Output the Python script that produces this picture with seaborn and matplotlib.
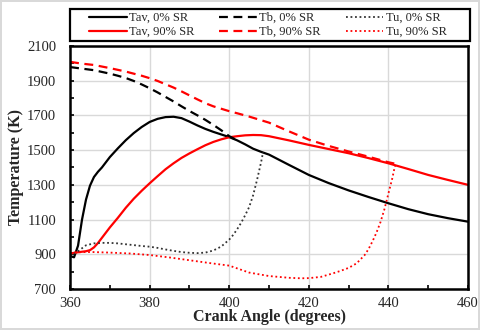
import seaborn as sns
import matplotlib
matplotlib.use('Agg')
import matplotlib.pyplot as plt
from matplotlib.ticker import MultipleLocator
from matplotlib.patches import Rectangle

# valores (angulo de cigueñal en grados, temperatura en K)
tav0_x = [360, 361, 362, 363, 364, 365, 366, 367, 368, 370, 372, 374, 376, 378, 380, 382, 384, 386, 388, 390,
          392, 394, 396, 398, 400, 402, 404, 406, 408, 410, 415, 420, 425, 430, 435, 440, 445, 450, 455, 460]
tav0_y = [890, 883, 950, 1100, 1215, 1295, 1345, 1375, 1400, 1460, 1510, 1557, 1598, 1633, 1662, 1680, 1690, 1692, 1684, 1664,
          1642, 1622, 1605, 1590, 1575, 1556, 1533, 1508, 1490, 1474, 1415, 1357, 1310, 1268, 1230, 1194, 1160, 1131, 1108, 1088]

tb0_x = [360, 362, 364, 366, 368, 370, 372, 374, 376, 378, 380, 382, 384, 386, 388, 390, 392, 394, 396, 398, 400, 402]
tb0_y = [1978, 1972, 1966, 1960, 1950, 1940, 1928, 1915, 1898, 1878, 1856, 1832, 1806, 1780, 1752, 1725, 1700, 1674, 1645, 1614, 1580, 1556]

tu0_x = [360, 362, 364, 366, 368, 370, 372, 374, 376, 378, 380, 382, 384, 386, 388, 390, 392, 394, 396, 398,
         400, 401, 402, 403, 404, 405, 406, 407, 408, 408.5]
tu0_y = [890, 918, 952, 963, 966, 966, 963, 958, 953, 948, 944, 937, 928, 920, 913, 909, 907, 910, 922, 945,
         985, 1012, 1045, 1082, 1125, 1172, 1240, 1330, 1430, 1488]

tav90_x = [360, 362, 364, 365, 366, 367, 368, 370, 372, 374, 376, 378, 380, 382, 384, 386, 388, 390, 392, 394,
           396, 398, 400, 402, 404, 406, 408, 410, 415, 420, 425, 430, 435, 440, 445, 450, 455, 460]
tav90_y = [905, 912, 918, 924, 940, 965, 995, 1055, 1110, 1168, 1220, 1266, 1309, 1350, 1390, 1424, 1455, 1481, 1505, 1528,
           1547, 1562, 1574, 1580, 1585, 1587, 1586, 1580, 1556, 1530, 1506, 1482, 1454, 1424, 1391, 1357, 1328, 1300]

tb90_x = [360, 362, 364, 366, 368, 370, 372, 374, 376, 378, 380, 382, 384, 386, 388, 390, 392, 394, 396, 398,
          400, 402, 405, 408, 410, 415, 420, 425, 430, 435, 440, 442]
tb90_y = [2008, 2001, 1995, 1990, 1981, 1972, 1962, 1952, 1940, 1928, 1914, 1898, 1879, 1860, 1838, 1815, 1792, 1770, 1752, 1738,
          1724, 1712, 1693, 1672, 1658, 1608, 1560, 1524, 1492, 1462, 1430, 1420]

tu90_x = [360, 362, 364, 366, 370, 375, 380, 385, 390, 395, 400, 405, 410, 415, 418, 420, 423, 426, 428, 430,
          432, 434, 435, 436, 437, 438, 439, 440, 441, 441.6, 442]
tu90_y = [908, 912, 913, 913, 910, 905, 896, 882, 866, 850, 835, 795, 775, 765, 762, 763, 770, 790, 805, 822,
          848, 895, 930, 975, 1025, 1085, 1160, 1250, 1340, 1405, 1425]

x_ticks = [360, 380, 400, 420, 440, 460]
y_ticks = [700, 900, 1100, 1300, 1500, 1700, 1900, 2100]

sns.set_style('white')
plt.rcParams['font.family'] = ['Liberation Serif', 'DejaVu Serif']

fig = plt.figure(figsize=(4.8, 3.3), dpi=100)
fig.patch.set_edgecolor('#d9d9d9')
fig.patch.set_linewidth(1.5)
ax = fig.add_axes([0.146, 0.124, 0.829, 0.737])

lw = 1.6
sns.lineplot(x=tav0_x, y=tav0_y, ax=ax, color='black', lw=lw, sort=False, label='Tav, 0% SR')
sns.lineplot(x=tav90_x, y=tav90_y, ax=ax, color='red', lw=lw, sort=False, label='Tav, 90% SR')
sns.lineplot(x=tb0_x, y=tb0_y, ax=ax, color='black', lw=lw, sort=False, label='Tb, 0% SR', linestyle=(0, (4, 2.5)))
sns.lineplot(x=tb90_x, y=tb90_y, ax=ax, color='red', lw=lw, sort=False, label='Tb, 90% SR', linestyle=(0, (4, 2.5)))
sns.lineplot(x=tu0_x, y=tu0_y, ax=ax, color='#333333', lw=1.3, sort=False, label='Tu, 0% SR', linestyle=(0, (1, 1.5)))
sns.lineplot(x=tu90_x, y=tu90_y, ax=ax, color='red', lw=1.3, sort=False, label='Tu, 90% SR', linestyle=(0, (1, 1.5)))

ax.set_xlim(360, 460)
ax.set_ylim(700, 2100)
ax.set_xticks(x_ticks)
ax.set_yticks(y_ticks)
ax.xaxis.set_minor_locator(MultipleLocator(10))
ax.yaxis.set_minor_locator(MultipleLocator(100))
ax.grid(True, which='major', color='#d9d9d9', lw=1)
ax.tick_params(which='both', direction='in', length=3, width=1.2, color='black',
               labelsize=10.5, bottom=True, left=True)
ax.tick_params(axis='y', pad=10)
ax.tick_params(axis='x', pad=6)
for s in ax.spines.values():
    s.set_color('black')
    s.set_linewidth(1.8)

ax.set_xlabel('Crank Angle (degrees)', fontsize=11.5, fontweight='bold', labelpad=-1)
ax.set_ylabel('Temperature (K)', fontsize=11.5, fontweight='bold', labelpad=2)

# marco de la leyenda y leyenda sin marco dentro
ax.add_patch(Rectangle((0, 1.02), 1.005, 0.13, transform=ax.transAxes, fill=False,
                       edgecolor='black', lw=1.6, clip_on=False))
leg = ax.legend(bbox_to_anchor=(0.04, 1.02, 0.915, 0.13), loc='lower left', mode='expand', ncol=3,
                fontsize=9, frameon=False, handlelength=3, handletextpad=0.2,
                borderaxespad=0, labelspacing=0.15, borderpad=0.25)

fig.savefig('out.png', dpi=100)
plt.close(fig)
